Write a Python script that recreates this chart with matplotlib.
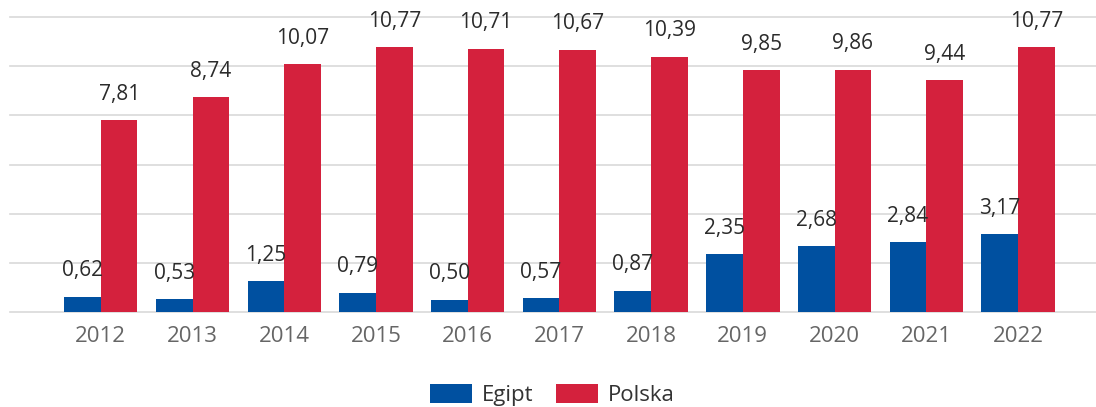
import matplotlib.pyplot as plt
import numpy as np

years = ["2012", "2013", "2014", "2015", "2016", "2017", "2018", "2019", "2020", "2021", "2022"]
egipt = [0.62, 0.53, 1.25, 0.79, 0.50, 0.57, 0.87, 2.35, 2.68, 2.84, 3.17]
polska = [7.81, 8.74, 10.07, 10.77, 10.71, 10.67, 10.39, 9.85, 9.86, 9.44, 10.77]

plt.rcParams["font.family"] = ["Open Sans", "DejaVu Sans"]

fig = plt.figure(figsize=(10.96, 4.07), dpi=100, facecolor="white")
ax = fig.add_axes([10 / 1096, 95 / 407, 1086 / 1096, 295 / 407])

x = np.arange(len(years))
w = 0.4
b1 = ax.bar(x - w / 2, egipt, width=w, color="#0050a0", label="Egipt")
b2 = ax.bar(x + w / 2, polska, width=w, color="#d4213d", label="Polska")

# value labels with comma decimal
for bars in (b1, b2):
    for bar in bars:
        h = bar.get_height()
        ax.annotate(
            f"{h:.2f}".replace(".", ","),
            xy=(bar.get_x() + bar.get_width() / 2, h),
            xytext=(0, 11),
            textcoords="offset points",
            ha="center",
            va="bottom",
            fontsize=15,
            color="#2b2b2b",
        )

ax.set_xlim(-0.99, 10.85)
ax.set_ylim(0, 12)
ax.set_yticks(np.arange(0, 13, 2))
ax.yaxis.grid(True, color="#d9d9d9", linewidth=1.2)
for line in ax.get_ygridlines():
    line.set_clip_on(False)
ax.set_axisbelow(True)
ax.tick_params(axis="y", left=False, labelleft=False)
ax.tick_params(axis="x", length=0, pad=10, labelsize=16, labelcolor="#666666")
ax.set_xticks(x)
ax.set_xticklabels(years)
for s in ax.spines.values():
    s.set_visible(False)

fig.legend(
    handles=[b1, b2],
    loc="upper center",
    bbox_to_anchor=(0.504, 34 / 407),
    ncol=2,
    frameon=False,
    fontsize=16,
    handlelength=1.9,
    handleheight=0.9,
    handletextpad=0.45,
    columnspacing=1.0,
    borderpad=0,
    labelcolor="#333333",
)

fig.savefig("out.png", dpi=100)
